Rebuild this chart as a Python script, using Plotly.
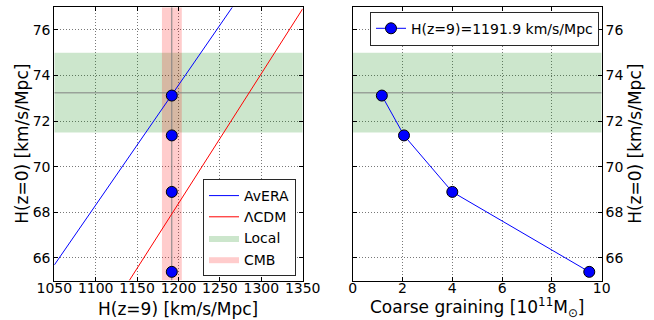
import plotly.graph_objects as go

# ---- data ----
h9_points = [1191.9, 1191.9, 1191.9, 1191.9]
h0_points = [73.12, 71.37, 68.89, 65.38]
coarse_graining = [1.17, 2.06, 4.0, 9.5]

avera_h9 = [1050.0, 1265.0]
avera_h0 = [65.68, 77.0]
lcdm_h9 = [1140.6, 1350.0]
lcdm_h0 = [65.0, 76.93]

local_h0_lo, local_h0_hi, local_h0_mid = 71.5, 75.0, 73.24
cmb_h9_lo, cmb_h9_hi, cmb_h9_mid = 1180.0, 1204.0, 1191.9

left_xticks = [1050, 1100, 1150, 1200, 1250, 1300, 1350]
right_xticks = [0, 2, 4, 6, 8, 10]
yticks = [66, 68, 70, 72, 74, 76]

W, H = 654, 320
FONT = "DejaVu Sans"
GREEN = "rgba(0,128,0,0.2)"
PINK = "rgba(255,0,0,0.2)"
GRAY = "rgb(128,128,128)"

fig = go.Figure()

# bands (left)
fig.add_trace(go.Scatter(x=[1050, 1350, 1350, 1050, 1050],
                         y=[local_h0_lo, local_h0_lo, local_h0_hi, local_h0_hi, local_h0_lo],
                         fill="toself", fillcolor=GREEN, mode="lines", line=dict(width=0),
                         name="Local", legendrank=3, xaxis="x", yaxis="y", hoverinfo="skip"))
fig.add_trace(go.Scatter(x=[cmb_h9_lo, cmb_h9_hi, cmb_h9_hi, cmb_h9_lo, cmb_h9_lo],
                         y=[65, 65, 77, 77, 65],
                         fill="toself", fillcolor=PINK, mode="lines", line=dict(width=0),
                         name="CMB", legendrank=4, xaxis="x", yaxis="y", hoverinfo="skip"))
# band (right)
fig.add_trace(go.Scatter(x=[0, 10, 10, 0, 0],
                         y=[local_h0_lo, local_h0_lo, local_h0_hi, local_h0_hi, local_h0_lo],
                         fill="toself", fillcolor=GREEN, mode="lines", line=dict(width=0),
                         showlegend=False, xaxis="x2", yaxis="y2", hoverinfo="skip"))

# gray reference lines
fig.add_trace(go.Scatter(x=[1050, 1350], y=[local_h0_mid, local_h0_mid], mode="lines",
                         line=dict(color=GRAY, width=1), showlegend=False, xaxis="x", yaxis="y"))
fig.add_trace(go.Scatter(x=[cmb_h9_mid, cmb_h9_mid], y=[65, 77], mode="lines",
                         line=dict(color=GRAY, width=1), showlegend=False, xaxis="x", yaxis="y"))
fig.add_trace(go.Scatter(x=[0, 10], y=[local_h0_mid, local_h0_mid], mode="lines",
                         line=dict(color=GRAY, width=1), showlegend=False, xaxis="x2", yaxis="y2"))

# model lines
fig.add_trace(go.Scatter(x=avera_h9, y=avera_h0, mode="lines", line=dict(color="blue", width=1),
                         name="AvERA", legendrank=1, xaxis="x", yaxis="y"))
fig.add_trace(go.Scatter(x=lcdm_h9, y=lcdm_h0, mode="lines", line=dict(color="red", width=1),
                         name="ΛCDM", legendrank=2, xaxis="x", yaxis="y"))

# points
fig.add_trace(go.Scatter(x=h9_points, y=h0_points, mode="markers",
                         marker=dict(color="blue", size=11, line=dict(color="black", width=1)),
                         showlegend=False, xaxis="x", yaxis="y", cliponaxis=False))
fig.add_trace(go.Scatter(x=coarse_graining, y=h0_points, mode="lines+markers",
                         line=dict(color="blue", width=1),
                         marker=dict(color="blue", size=11, line=dict(color="black", width=1)),
                         name="H(z=9)=1191.9 km/s/Mpc", legend="legend2",
                         xaxis="x2", yaxis="y2", cliponaxis=False))

x0, x1 = 54.3 / W, 302.7 / W
x2, x3 = 352.7 / W, 601.7 / W
y0, y1 = (H - 280.5) / H, (H - 7.2) / H

axis_common = dict(showline=True, linecolor="black", linewidth=1, mirror="ticks",
                   ticks="inside", ticklen=4, tickcolor="black",
                   showgrid=True, gridcolor="rgb(120,120,120)", gridwidth=1, griddash="1px,2px",
                   zeroline=False, tickfont=dict(family=FONT, size=14, color="black"),
                   automargin=False)

fig.update_layout(
    width=W, height=H, margin=dict(l=0, r=0, t=0, b=0),
    paper_bgcolor="white", plot_bgcolor="white",
    font=dict(family=FONT, size=14, color="black"),
    xaxis=dict(domain=[x0, x1], range=[1050, 1350], tickvals=left_xticks, anchor="y",
               ticklabelstandoff=-5, **axis_common),
    yaxis=dict(domain=[y0, y1], range=[65, 77], tickvals=yticks, anchor="x", **axis_common),
    xaxis2=dict(domain=[x2, x3], range=[0, 10], tickvals=right_xticks, anchor="y2",
                ticklabelstandoff=-5, **axis_common),
    yaxis2=dict(domain=[y0, y1], range=[65, 77], tickvals=yticks, anchor="x2", side="right", **axis_common),
    legend=dict(x=296 / W, y=(H - 276) / H, xanchor="right", yanchor="bottom",
                bgcolor="white", bordercolor="rgb(40,40,40)", borderwidth=1,
                font=dict(family=FONT, size=14), tracegroupgap=0, itemwidth=30),
    legend2=dict(x=599 / W, y=(H - 11.7) / H, xanchor="right", yanchor="top",
                 bgcolor="white", bordercolor="rgb(40,40,40)", borderwidth=1,
                 font=dict(family=FONT, size=14), itemwidth=30),
    annotations=[
        dict(text="H(z=9) [km/s/Mpc]", x=(x0 + x1) / 2, y=-1 / H, xref="paper", yref="paper",
             showarrow=False, font=dict(family=FONT, size=17), xanchor="center", yanchor="bottom"),
        dict(text="Coarse graining [10<sup>11</sup>M<sub>⊙</sub>]", x=(x2 + x3) / 2, y=-2 / H,
             xref="paper", yref="paper", showarrow=False, font=dict(family=FONT, size=17),
             xanchor="center", yanchor="bottom"),
        dict(text="H(z=0) [km/s/Mpc]", x=22 / W, y=(y0 + y1) / 2, xref="paper", yref="paper",
             showarrow=False, textangle=-90, font=dict(family=FONT, size=17),
             xanchor="center", yanchor="middle"),
        dict(text="H(z=0) [km/s/Mpc]", x=635 / W, y=(y0 + y1) / 2, xref="paper", yref="paper",
             showarrow=False, textangle=-90, font=dict(family=FONT, size=17),
             xanchor="center", yanchor="middle"),
    ],
)

fig.write_html("out.html")
